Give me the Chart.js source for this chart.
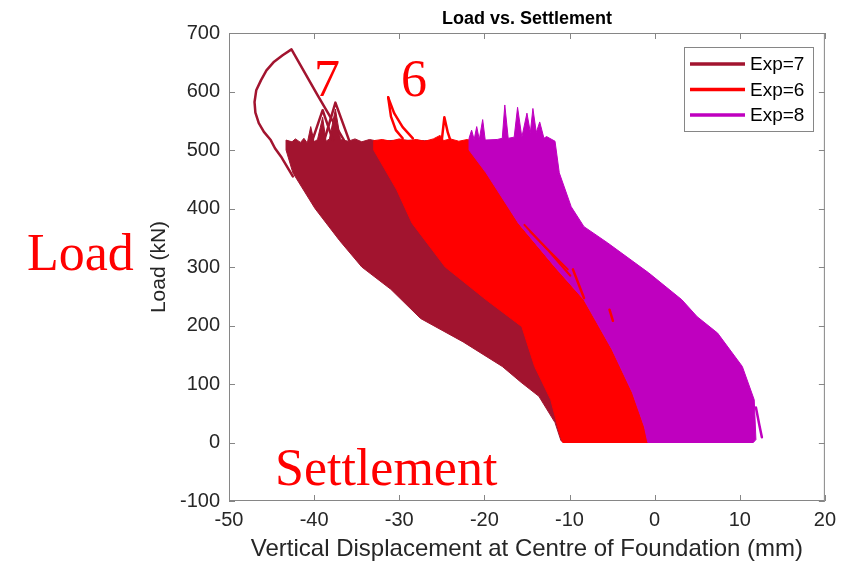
<!DOCTYPE html>
<html>
<head>
<meta charset="utf-8">
<title>Load vs. Settlement</title>
<script src="https://cdn.jsdelivr.net/npm/chart.js@4.4.1/dist/chart.umd.min.js"></script>
<style>
  body { margin: 0; background: #fff; }
  #wrap { position: relative; width: 843px; height: 568px; }
  .note { position: absolute; color: #ff0000; font-family: "Liberation Serif", "Times New Roman", serif; font-size: 52px; line-height: 1; white-space: nowrap; }
</style>
</head>
<body>
<div id="wrap">
  <canvas id="chart" width="843" height="568"></canvas>
  <div class="note" style="left:27px; top:227px;">Load</div>
  <div class="note" style="left:275px; top:442px;">Settlement</div>
  <div class="note" style="left:314px; top:53px;">7</div>
  <div class="note" style="left:401px; top:53px;">6</div>
</div>
<script>
// series labels and ticks
const seriesNames = ['Exp=7', 'Exp=6', 'Exp=8'];
const xTicks = [-50, -40, -30, -20, -10, 0, 10, 20];
const yTicks = [-100, 0, 100, 200, 300, 400, 500, 600, 700];

// outlines of the filled hysteresis bands, [displacement mm, load kN]
const exp7Band = [
    [-43.3, 500], [-43.3, 517], [-42.6, 514], [-42.2, 519], [-41.6, 513], [-41.2, 520], [-40.8, 512],
    [-40.4, 540], [-40.0, 514], [-39.6, 518], [-39.0, 556], [-38.6, 515], [-38.2, 519], [-37.5, 570],
    [-36.9, 518], [-36.0, 515], [-35.2, 519], [-34.4, 514], [-33.5, 518], [-32.5, 515], [-30, 517],
    [-27, 516], [-24, 515], [-21, 440], [-17, 330], [-13, 230], [-10, 110], [-8, 30], [-8, 0],
    [-10.6, 0], [-11.0, 3], [-11.7, 34], [-13.6, 79], [-15.7, 103], [-17.9, 130], [-22.5, 172],
    [-27.5, 212], [-31.0, 262], [-34.4, 300], [-37.0, 345], [-39.9, 400], [-42.5, 461],
    [-43.3, 500]
];
const exp6Band = [
    [-33.0, 500], [-33.0, 516], [-32.0, 518], [-31.0, 515], [-30.0, 519], [-29.0, 516], [-28.0, 518],
    [-27.0, 515], [-26.0, 519], [-25.2, 525], [-24.8, 516], [-24.0, 519], [-23.0, 515], [-22.0, 518],
    [-21.5, 516], [-20.5, 500], [-19.5, 461], [-16.0, 375], [-11.7, 300], [-8.3, 244], [-5.0, 159],
    [-2.6, 85], [-1.2, 27], [-0.6, 0], [-10.8, 0], [-11.2, 17], [-12.2, 73], [-14.1, 130],
    [-15.6, 198], [-19.8, 244], [-24.6, 300], [-28.5, 375], [-30.3, 432], [-33.0, 500]
];
const exp8Band = [
    [-21.8, 500], [-21.8, 520], [-21.5, 534], [-21.2, 518], [-20.9, 540], [-20.6, 518], [-20.2, 552],
    [-19.9, 517], [-18.5, 518], [-17.9, 520], [-17.6, 577], [-17.2, 520], [-16.5, 522], [-16.1, 573],
    [-15.6, 522], [-15.0, 563], [-14.6, 530], [-14.3, 571], [-13.9, 530], [-13.5, 548], [-13.0, 520],
    [-12.7, 523], [-11.7, 515], [-11.2, 461], [-9.8, 403], [-8.3, 369], [-5.5, 341], [-0.7, 290],
    [3.2, 244], [5.0, 215], [7.4, 187], [10.3, 130], [11.7, 73], [11.9, 5], [11.6, 0], [-0.8, 0],
    [-1.2, 27], [-2.6, 85], [-5.0, 159], [-8.3, 244], [-11.7, 300], [-16.0, 375], [-19.8, 461],
    [-21.8, 500]
];

// single load paths that stick out of the bands
const exp7Loop = [
    [-42.5, 455], [-43.9, 489], [-44.6, 503], [-45.1, 517], [-45.9, 531], [-46.5, 546], [-46.9, 564],
    [-47.0, 582], [-46.8, 602], [-46.25, 619], [-45.6, 636], [-44.7, 651], [-43.7, 662], [-42.66, 672],
    [-39.6, 594], [-36.5, 517]
];
const exp7SpikeA = [[-40.2, 517], [-39.0, 568], [-37.8, 517]];
const exp7SpikeB = [[-38.8, 517], [-37.5, 581], [-35.9, 517]];
const exp6CurveA = [[-31.3, 590], [-30.97, 557], [-30.4, 534], [-29.6, 520]];
const exp6CurveB = [[-31.3, 590], [-30.6, 563], [-29.6, 539], [-28.4, 520]];
const exp6Spike = [[-25.0, 517], [-24.7, 556], [-24.3, 530], [-24.0, 517]];
const exp6StreakA = [[-15.3, 372], [-12.6, 330], [-9.9, 285]];
const exp6StreakB = [[-14.6, 360], [-12.0, 322], [-10.2, 296]];
const exp6StreakC = [[-9.6, 296], [-8.3, 247]];
const exp6StreakD = [[-5.3, 227], [-4.9, 208]];
const exp8Tail = [[11.9, 60], [12.3, 30], [12.6, 9]];

const colExp7 = 'rgb(162, 20, 47)';
const colExp6 = 'rgb(255, 0, 0)';
const colExp8 = 'rgb(191, 0, 191)';
const axisGrey = '#868686';
const textCol = '#262626';
const sans = '"Liberation Sans", Arial, Helvetica, sans-serif';

function pts(list) {
    return list.map(p => ({ x: p[0], y: p[1] }));
}

// lower order is drawn on top
function band(label, list, color, order) {
    return {
        label: label,
        data: pts(list),
        borderColor: color,
        backgroundColor: color,
        borderWidth: 1,
        fill: 'shape',
        pointRadius: 0,
        tension: 0,
        order: order
    };
}

function path(list, color, width) {
    return {
        label: '',
        data: pts(list),
        borderColor: color,
        borderWidth: width,
        fill: false,
        pointRadius: 0,
        tension: 0,
        borderJoinStyle: 'round',
        borderCapStyle: 'round',
        order: 0
    };
}

const legendColors = [colExp7, colExp6, colExp8];

// MATLAB style box, inner ticks, title and legend
const matlabFrame = {
    id: 'matlabFrame',
    afterDraw(chart) {
        const ctx = chart.ctx;
        const a = chart.chartArea;
        const xs = chart.scales.x;
        const ys = chart.scales.y;
        ctx.save();
        ctx.strokeStyle = axisGrey;
        ctx.lineWidth = 1;
        ctx.strokeRect(a.left + 0.5, a.top + 0.5, a.right - a.left - 1, a.bottom - a.top - 1);
        ctx.beginPath();
        xTicks.forEach(v => {
            const px = Math.round(xs.getPixelForValue(v)) + 0.5;
            ctx.moveTo(px, a.bottom); ctx.lineTo(px, a.bottom - 6);
            ctx.moveTo(px, a.top); ctx.lineTo(px, a.top + 6);
        });
        yTicks.forEach(v => {
            const py = Math.round(ys.getPixelForValue(v)) + 0.5;
            ctx.moveTo(a.left, py); ctx.lineTo(a.left + 6, py);
            ctx.moveTo(a.right, py); ctx.lineTo(a.right - 6, py);
        });
        ctx.stroke();

        // title
        ctx.fillStyle = '#000';
        ctx.font = 'bold 18px ' + sans;
        ctx.textAlign = 'center';
        ctx.textBaseline = 'middle';
        ctx.fillText('Load vs. Settlement', (a.left + a.right) / 2, 19);

        // legend
        const bx = 684, by = 47, bw = 129, bh = 84;
        ctx.fillStyle = '#fff';
        ctx.fillRect(bx, by, bw, bh);
        ctx.strokeStyle = axisGrey;
        ctx.strokeRect(bx + 0.5, by + 0.5, bw, bh);
        ctx.font = '19px ' + sans;
        ctx.textAlign = 'left';
        seriesNames.forEach((name, i) => {
            const ly = 64 + i * 25.5;
            ctx.strokeStyle = legendColors[i];
            ctx.lineWidth = 3.5;
            ctx.beginPath();
            ctx.moveTo(690, ly); ctx.lineTo(745, ly);
            ctx.stroke();
            ctx.fillStyle = '#000';
            ctx.fillText(name, 750, ly + 1);
        });
        ctx.restore();
    }
};

const ctx = document.getElementById('chart').getContext('2d');
const myChart = new Chart(ctx, {
    type: 'line',
    data: {
        datasets: [
            band(seriesNames[0], exp7Band, colExp7, 3),
            band(seriesNames[1], exp6Band, colExp6, 2),
            band(seriesNames[2], exp8Band, colExp8, 1),
            path(exp7Loop, colExp7, 2.5),
            path(exp7SpikeA, colExp7, 2.5),
            path(exp7SpikeB, colExp7, 2.5),
            path(exp6CurveA, colExp6, 2.5),
            path(exp6CurveB, colExp6, 2.5),
            path(exp6Spike, colExp6, 2.5),
            path(exp6StreakA, colExp6, 2),
            path(exp6StreakB, colExp6, 2),
            path(exp6StreakC, colExp6, 2.5),
            path(exp6StreakD, colExp6, 2.5),
            path(exp8Tail, colExp8, 2.5)
        ]
    },
    options: {
        responsive: false,
        animation: false,
        layout: { padding: { top: 33, right: 17, left: 0, bottom: 0 } },
        plugins: {
            legend: { display: false },
            title: { display: false },
            tooltip: { enabled: false }
        },
        scales: {
            x: {
                type: 'linear',
                min: -50,
                max: 20,
                afterBuildTicks: s => { s.ticks = xTicks.map(v => ({ value: v })); },
                ticks: { padding: 7, color: textCol, font: { family: sans, size: 20 } },
                grid: { display: false, drawTicks: false },
                border: { display: false },
                title: {
                    display: true,
                    text: 'Vertical Displacement at Centre of Foundation (mm)',
                    color: textCol,
                    font: { family: sans, size: 24 },
                    padding: { top: 0, bottom: 4 }
                },
                afterFit: s => { s.height = 67; }
            },
            y: {
                min: -100,
                max: 700,
                afterBuildTicks: s => { s.ticks = yTicks.map(v => ({ value: v })); },
                ticks: { padding: 9, color: textCol, font: { family: sans, size: 20 } },
                grid: { display: false, drawTicks: false },
                border: { display: false },
                title: {
                    display: true,
                    text: 'Load (kN)',
                    color: textCol,
                    font: { family: sans, size: 21 },
                    padding: { top: 147, bottom: 0 }
                },
                afterFit: s => { s.width = 229; }
            }
        }
    },
    plugins: [matlabFrame]
});
</script>
</body>
</html>
